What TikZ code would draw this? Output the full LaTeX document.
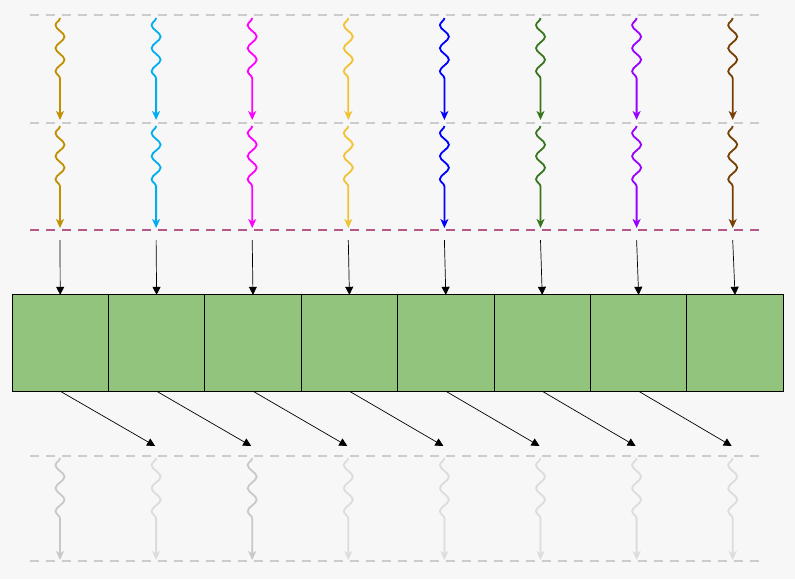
\documentclass[tikz,border=0pt]{standalone}
\usepackage{tikz}
\usetikzlibrary{arrows.meta,decorations.pathmorphing}
\definecolor{bgc}{HTML}{F7F7F7}
\definecolor{sepgray}{HTML}{CCCCCC}
\definecolor{seppink}{HTML}{B5578A}
\definecolor{cellgreen}{HTML}{93C47D}
\definecolor{wa}{HTML}{BF9000}
\definecolor{wb}{HTML}{00AEEF}
\definecolor{wc}{HTML}{FF00FF}
\definecolor{wd}{HTML}{F1C232}
\definecolor{we}{HTML}{0000FF}
\definecolor{wf}{HTML}{38761D}
\definecolor{wg}{HTML}{9900FF}
\definecolor{wh}{HTML}{783F04}
\definecolor{ga}{HTML}{C8C8C8}
\definecolor{gb}{HTML}{DCDCDC}

\begin{document}
\begin{tikzpicture}[x=1pt,y=-1pt,
blk/.style={draw=black,fill=cellgreen,minimum size=96.4pt,inner sep=0pt,outer sep=0pt,line width=0.8pt},
sep/.style={line width=1.6pt,dash pattern=on 9pt off 7pt},
wv/.style={line width=1.8pt,-{Stealth[length=9pt,width=8pt,inset=2.5pt]},decorate,decoration={snake,amplitude=-4.5pt,segment length=23pt,post length=32pt}},
arr/.style={line width=0.7pt,-{Triangle[length=8pt,width=8pt]}}]
\fill[bgc] (0,0) rectangle (795,579);
% separators
\foreach \y in {15,123,456,561} {
   \draw[sep,draw=sepgray] (30,\y) -- (762,\y);
}
\draw[sep,draw=seppink] (30,230) -- (762,230);
% blocks
\foreach \i in {1,...,8} {
   \node[blk] (bx\i) at ({60.2+96.4*(\i-1)},343) {};
}
% incoming waves
\foreach \i/\c in %
{1/wa,2/wb,3/wc,4/wd,5/we,6/wf,7/wg,8/wh} {
   \coordinate (s\i) at ({60+96.1*(\i-1)},18);
   \coordinate (m\i) at ({60+96.1*(\i-1)},120);
   \coordinate (n\i) at ({60+96.1*(\i-1)},126);
   \coordinate (e\i) at ({60+96.1*(\i-1)},228);
   \coordinate (k\i) at ({60+96.1*(\i-1)},240);
   \draw[wv,draw=\c] (s\i) -- (m\i);
   \draw[wv,draw=\c] (n\i) -- (e\i);
   \draw[arr] (k\i) -- (bx\i.north);
}
% outgoing
\foreach \i/\j in {1/2,2/3,3/4,4/5,5/6,6/7,7/8} {
   \coordinate (d\i) at ({59+96.1*(\j-1)},446);
   \draw[arr] (bx\i.south) -- (d\i);
}
\foreach \i/\c in %
{1/ga,2/gb,3/ga,4/gb,5/gb,6/gb,7/gb,8/gb} {
   \coordinate (u\i) at ({60+96.1*(\i-1)},458);
   \coordinate (v\i) at ({60+96.1*(\i-1)},560);
   \draw[wv,draw=\c] (u\i) -- (v\i);
}
\end{tikzpicture}
\end{document}
